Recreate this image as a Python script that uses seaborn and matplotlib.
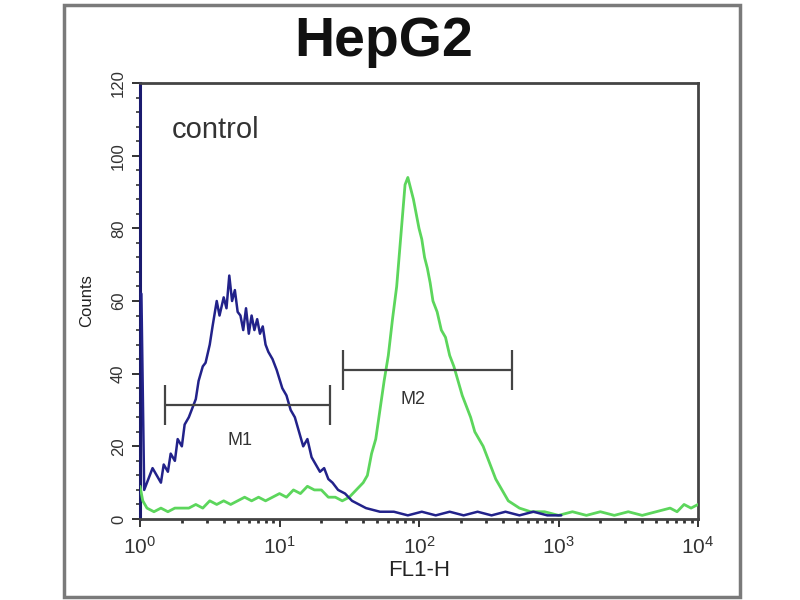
import numpy as np
import pandas as pd
import matplotlib
matplotlib.use("Agg")
import matplotlib.pyplot as plt
import seaborn as sns
from matplotlib.ticker import MultipleLocator, LogLocator, NullFormatter
from matplotlib.patches import Rectangle

# ---------------- data (log10 of FL1-H, counts) ----------------
control_log = [0.00, 0.01, 0.03, 0.06, 0.09, 0.12, 0.15, 0.17, 0.20, 0.22, 0.25, 0.27, 0.30,
               0.32, 0.35, 0.37, 0.40, 0.42, 0.45, 0.47, 0.50, 0.52, 0.55, 0.57, 0.60,
               0.62, 0.64, 0.66, 0.68, 0.70, 0.72, 0.74, 0.76, 0.78, 0.80, 0.82, 0.84,
               0.86, 0.88, 0.90, 0.92, 0.95, 0.98, 1.02, 1.05, 1.08, 1.11, 1.14, 1.17,
               1.20, 1.23, 1.26, 1.29, 1.32, 1.35, 1.38, 1.42, 1.47, 1.52, 1.57, 1.62,
               1.72, 1.82, 1.92, 2.02, 2.12, 2.22, 2.32, 2.42, 2.52, 2.62, 2.72, 2.82,
               2.92, 3.02]
control_counts = [62, 62, 8, 11, 14, 12, 10, 15, 13, 18, 16, 22, 20,
                  26, 28, 30, 33, 38, 42, 43, 48, 53, 60, 56, 61,
                  58, 67, 60, 63, 57, 56, 52, 58, 51, 56, 52, 55,
                  51, 53, 48, 46, 44, 41, 36, 34, 30, 28, 24, 20,
                  22, 17, 15, 13, 14, 11, 10, 8, 7, 5, 4, 3,
                  2, 2, 1, 2, 1, 2, 1, 2, 1, 2, 1, 2,
                  1, 1]

sample_log = [0.00, 0.02, 0.05, 0.10, 0.15, 0.20, 0.25, 0.30, 0.35, 0.40, 0.45, 0.50,
              0.55, 0.60, 0.65, 0.70, 0.75, 0.80, 0.85, 0.90, 0.95, 1.00, 1.05, 1.10,
              1.15, 1.20, 1.25, 1.30, 1.35, 1.40, 1.45, 1.50, 1.55, 1.60, 1.63, 1.66,
              1.69, 1.72, 1.75, 1.78, 1.81, 1.84, 1.87, 1.90, 1.92, 1.94, 1.96, 1.98,
              2.00, 2.02, 2.04, 2.06, 2.08, 2.10, 2.13, 2.16, 2.19, 2.22, 2.25, 2.28,
              2.31, 2.34, 2.37, 2.40, 2.43, 2.46, 2.49, 2.52, 2.55, 2.58, 2.61, 2.64,
              2.68, 2.72, 2.80, 2.90, 3.00, 3.10, 3.20, 3.30, 3.40, 3.50, 3.60, 3.70,
              3.80, 3.85, 3.90, 3.95, 4.00]
sample_counts = [9, 5, 3, 2, 3, 2, 3, 3, 3, 4, 3, 5,
                 4, 5, 4, 5, 6, 5, 6, 5, 6, 7, 6, 8,
                 7, 9, 8, 8, 6, 6, 5, 6, 8, 10, 12, 18,
                 22, 30, 38, 45, 55, 64, 78, 92, 94, 91, 88, 84,
                 80, 77, 72, 69, 65, 60, 57, 52, 50, 45, 42, 38,
                 34, 31, 28, 24, 22, 20, 17, 14, 11, 9, 7, 5,
                 4, 3, 2, 2, 1, 2, 1, 2, 1, 2, 1, 2,
                 3, 2, 4, 3, 4]

# marker gates: name, start (log10), end (log10), level
gate_names = ["M1", "M2"]
gate_start = [0.18, 1.455]
gate_end = [1.36, 2.667]
gate_level = [31.4, 41.0]
gate_label_log = [0.72, 1.96]
gate_label_y = [21.5, 32.8]

title = "HepG2"
annotation = "control"
x_label = "FL1-H"
y_label = "Counts"

# ---------------- figure ----------------
sns.set_theme(style="white")
plt.rcParams["font.family"] = ["Liberation Sans", "DejaVu Sans"]
plt.rcParams["mathtext.default"] = "regular"

fig = plt.figure(figsize=(8, 6), dpi=100)
fig.patch.set_facecolor("white")
ax = fig.add_axes([140 / 800, 1 - 519 / 600, (698 - 140) / 800, (519 - 83) / 600])

df_c = pd.DataFrame({"fl1": np.power(10.0, control_log), "counts": control_counts})
df_s = pd.DataFrame({"fl1": np.power(10.0, sample_log), "counts": sample_counts})

sns.lineplot(data=df_s, x="fl1", y="counts", ax=ax, color="#5cd65c", lw=2.0, zorder=3)
sns.lineplot(data=df_c, x="fl1", y="counts", ax=ax, color="#22228a", lw=1.8, zorder=4)

ax.set_xscale("log")
ax.set_xlim(1, 1e4)
ax.set_ylim(0, 120)

# gates
for name, s, e, lv, lx, ly in zip(gate_names, gate_start, gate_end, gate_level,
                                  gate_label_log, gate_label_y):
    ax.hlines(lv, 10 ** s, 10 ** e, color="#444444", lw=1.6, zorder=5)
    ax.vlines([10 ** s, 10 ** e], lv - 5.5, lv + 5.5, color="#444444", lw=1.6, zorder=5)
    ax.text(10 ** lx, ly, name, ha="center", va="center", fontsize=13, color="#333333")

ax.text(10 ** 0.23, 107, annotation, ha="left", va="center", fontsize=21, color="#333333")

# ticks
ax.yaxis.set_major_locator(MultipleLocator(20))
ax.yaxis.set_minor_locator(MultipleLocator(4))
ax.xaxis.set_major_locator(LogLocator(base=10, numticks=10))
ax.xaxis.set_minor_locator(LogLocator(base=10, subs=np.arange(2, 10), numticks=20))
ax.xaxis.set_minor_formatter(NullFormatter())
ax.tick_params(axis="both", which="both", direction="out", bottom=True, left=True,
               colors="#333333")
ax.tick_params(axis="y", which="major", length=6, width=1.4, labelsize=12, pad=4)
ax.tick_params(axis="y", which="minor", length=3, width=1.2)
ax.tick_params(axis="x", which="major", length=6, width=1.4, labelsize=15, pad=6)
ax.tick_params(axis="x", which="minor", length=3, width=2)
for lbl in ax.get_yticklabels():
    lbl.set_rotation(90)
    lbl.set_va("center")

ax.set_xlabel(x_label, fontsize=16, color="#222222", labelpad=2)
ax.set_ylabel(y_label, fontsize=12, color="#222222", labelpad=12)

for side in ["top", "right", "bottom"]:
    ax.spines[side].set_color("#444444")
    ax.spines[side].set_linewidth(2)
ax.spines["left"].set_color("#1a1a6e")
ax.spines["left"].set_linewidth(2.2)

fig.text(384 / 800, 1 - 42 / 600, title, ha="center", va="center",
         fontsize=40, fontweight="bold", color="#111111")

# outer frame
fig.patches.append(Rectangle((64 / 800, 1 - 597 / 600), (740 - 64) / 800, (597 - 5) / 600,
                             transform=fig.transFigure, fill=False,
                             edgecolor="#7a7a7a", lw=2.5, zorder=10))

fig.savefig("out.png", dpi=100, facecolor="white")
